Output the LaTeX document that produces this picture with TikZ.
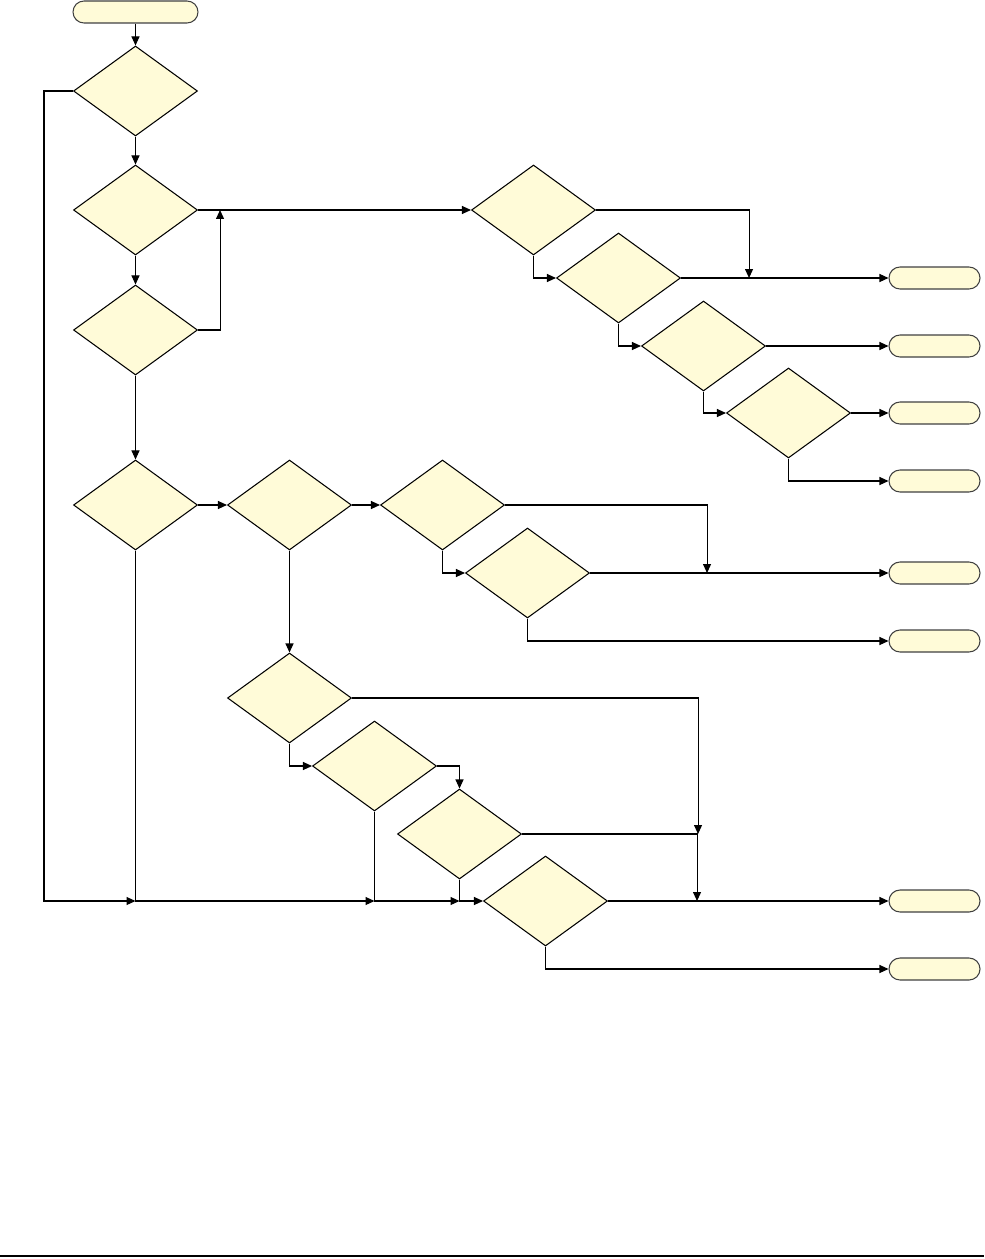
\documentclass[tikz,border=0pt]{standalone}
\usetikzlibrary{shapes.geometric,arrows.meta,calc}
\definecolor{boxfill}{RGB}{255,251,216}

\begin{document}
\begin{tikzpicture}[
    node distance=2cm,
    decision/.style={
        diamond,
        draw,
        fill=boxfill,
        line width=0.6pt,
        minimum width=2.48cm,
        minimum height=1.8cm,
        inner sep=0pt
    },
    terminal/.style={
        rectangle,
        rounded corners=0.22cm,
        draw=black!75,
        fill=boxfill,
        line width=0.6pt,
        minimum width=1.82cm,
        minimum height=0.44cm,
        inner sep=0pt
    },
    arrow/.style={
        -{Triangle[length=0.18cm,width=0.16cm]},
        line width=0.6pt
    }
]
\useasboundingbox (0,0) rectangle (19.68,-25.18);

% Main column
\node [terminal, minimum width=2.5cm] (start) at (2.71,-0.24) {};
\node [decision, below of=start, node distance=1.58cm] (d1) {};
\node [decision, below of=d1, node distance=2.38cm] (d2) {};
\node [decision, below of=d2, node distance=2.40cm] (d4) {};
\node [decision, below of=d4, node distance=3.50cm] (d5) {};

% Upper cascade
\node [decision, right of=d2, node distance=7.96cm] (d3) {};
\node [decision, below of=d3, node distance=1.36cm, xshift=1.70cm] (d10) {};
\node [decision, below of=d10, node distance=1.36cm, xshift=1.70cm] (d11) {};
\node [decision, below of=d11, node distance=1.34cm, xshift=1.70cm] (d12) {};

% Middle row
\node [decision, right of=d5, node distance=3.08cm] (d6) {};
\node [decision, right of=d6, node distance=3.06cm] (d7) {};
\node [decision, below of=d7, node distance=1.36cm, xshift=1.70cm] (d9) {};

% Lower cascade
\node [decision, below of=d6, node distance=3.86cm] (d8) {};
\node [decision, below of=d8, node distance=1.36cm, xshift=1.70cm] (d15) {};
\node [decision, below of=d15, node distance=1.36cm, xshift=1.70cm] (d13) {};
\node [decision, below of=d13, node distance=1.34cm, xshift=1.72cm] (d14) {};

% Ends
\node [terminal, right of=d10, node distance=6.32cm] (t1) {};
\node [terminal, right of=d11, node distance=4.62cm] (t2) {};
\node [terminal, right of=d12, node distance=2.92cm] (t3) {};
\node [terminal, below of=t3, node distance=1.36cm] (t4) {};
\node [terminal, right of=d9, node distance=8.14cm] (t5) {};
\node [terminal, below of=t5, node distance=1.36cm] (t6) {};
\node [terminal, right of=d14, node distance=7.78cm] (t7) {};
\node [terminal, below of=t7, node distance=1.36cm] (t8) {};

% Merge points on the bottom line
\coordinate (m1) at (d5.south |- d14.west);
\coordinate (m2) at (d15.south |- d14.west);
\coordinate (m3) at (d13.south |- d14.west);

% Main flow
\draw [arrow] (start) -- (d1);
\draw [arrow] (d1) -- (d2);
\draw [arrow] (d2) -- (d4);
\draw [arrow] (d4) -- (d5);
\draw [arrow] (d2.east) -- (d3.west);
\draw [arrow] (d4.east) -| ($(d2.east)+(0.44,0)$);
\draw [arrow] (d1.west) -- ++(-0.58,0) |- (m1);
\draw [arrow] (d5.south) |- (m2);

% Upper cascade links
\draw [arrow] (d3.south) |- (d10.west);
\draw [arrow] (d10.south) |- (d11.west);
\draw [arrow] (d11.south) |- (d12.west);
\draw [arrow] (d3.east) -| ($(d10.east)+(1.36,0)$);
\draw [arrow] (d10.east) -- (t1.west);
\draw [arrow] (d11.east) -- (t2.west);
\draw [arrow] (d12.east) -- (t3.west);
\draw [arrow] (d12.south) |- (t4.west);

% Middle row links
\draw [arrow] (d5.east) -- (d6.west);
\draw [arrow] (d6.east) -- (d7.west);
\draw [arrow] (d7.south) |- (d9.west);
\draw [arrow] (d7.east) -| ($(d9.east)+(2.34,0)$);
\draw [arrow] (d9.east) -- (t5.west);
\draw [arrow] (d9.south) |- (t6.west);
\draw [arrow] (d6.south) -- (d8.north);

% Lower cascade links
\draw [arrow] (d8.south) |- (d15.west);
\draw [arrow] (d15.east) -| (d13.north);
\draw [arrow] (d8.east) -| ($(d13.east)+(3.52,0)$);
\draw [arrow] (d13.east) -| ($(d14.east)+(1.78,0)$);
\draw [arrow] (d15.south) |- (m3);
\draw [arrow] (d13.south) |- (d14.west);
\draw [arrow] (d14.east) -- (t7.west);
\draw [arrow] (d14.south) |- (t8.west);

% Page rule
\draw [line width=1.1pt] (0,-25.12) -- (19.68,-25.12);

\end{tikzpicture}
\end{document}
